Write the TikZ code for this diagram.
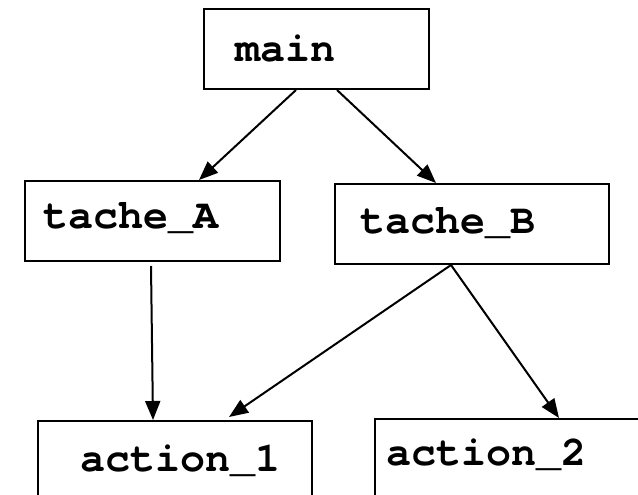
\documentclass[tikz,border=0pt]{standalone}
\usepackage{fontspec}
\setmonofont{TeX Gyre Cursor}
\usetikzlibrary{arrows.meta}
\tikzset{
  box/.style={draw=black, line width=2pt, rectangle, minimum height=80pt, inner sep=0pt},
  lbl/.style={anchor=base west, inner sep=0pt, font=\fontsize{41.7}{50}\selectfont\ttfamily\bfseries},
  conn/.style={line width=2pt, -{Triangle[length=19pt,width=15pt]}}
}
\begin{document}
\begin{tikzpicture}[x=1pt,y=-1pt]
\useasboundingbox (0,0) rectangle (638,495);
\clip (0,0) rectangle (638,495);
\node[box, minimum width=225pt] (main) at (316.5,49) {};
\node[box, minimum width=255pt] (tA) at (152.5,221) {};
\node[box, minimum width=274pt] (tB) at (472,224) {};
\node[box, minimum width=274pt] (a1) at (175,461) {};
\node[box, minimum width=270pt] (a2) at (510,459) {};
\node[lbl] (tmain) at (235,62) {main};
\node[lbl] (ttA) at (43,228) {tache\_A};
\node[lbl] (ttB) at (360,233) {tache\_B};
\node[lbl] (ta1) at (80,471) {action\_1};
\node[lbl] (ta2) at (386,465) {action\_2};
\draw[conn] ([xshift=93pt]main.south west) -- ([xshift=175pt]tA.north west);
\draw[conn] ([xshift=134pt]main.south west) -- ([xshift=102pt]tB.north west);
\draw[conn] ([xshift=127pt,yshift=-4pt]tA.south west) -- ([xshift=116pt]a1.north west);
\draw[conn] ([xshift=117pt]tB.south west) -- ([xshift=192pt,yshift=3pt]a1.north west);
\draw[conn] ([xshift=117pt]tB.south west) -- ([xshift=185pt]a2.north west);
\end{tikzpicture}
\end{document}
